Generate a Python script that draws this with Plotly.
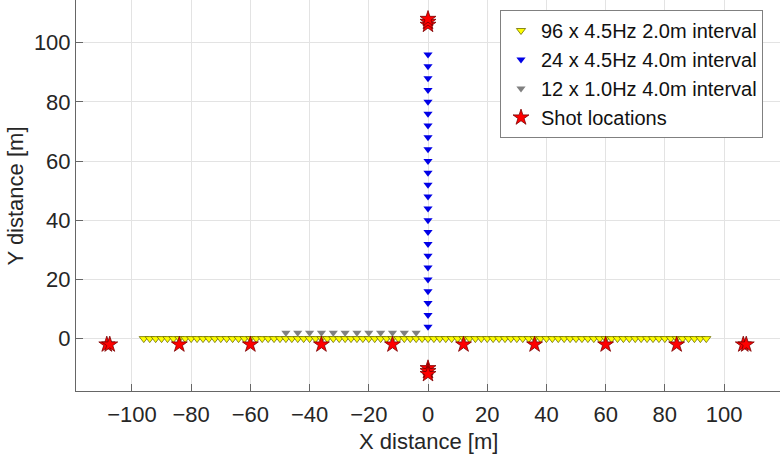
import numpy as np
import plotly.graph_objects as go

# Receiver lines
yellow_x = list(range(-96, 95, 2))          # 96 x 4.5Hz, 2.0 m interval
yellow_y = [0] * len(yellow_x)
blue_y = list(range(4, 97, 4))               # 24 x 4.5Hz, 4.0 m interval
blue_x = [0] * len(blue_y)
gray_x = list(range(-48, -3, 4))             # 12 x 1.0Hz, 4.0 m interval
gray_y = [2] * len(gray_x)

# Shot locations
shot_x = [-108.5, -107.5, -84, -60, -36, -12, 12, 36, 60, 84, 106.5, 107.5,
          0, 0, 0, 0, 0, 0]
shot_y = [-2, -2, -2, -2, -2, -2, -2, -2, -2, -2, -2, -2,
          -10, -11, -12, 106, 107, 108]

x_ticks = list(range(-100, 101, 20))
y_ticks = list(range(0, 101, 20))

FONT = "Liberation Sans, Arial, Helvetica"

fig = go.Figure()
fig.add_trace(go.Scatter(
    x=yellow_x, y=yellow_y, mode="markers", name="96 x 4.5Hz 2.0m interval",
    marker=dict(symbol="triangle-down", size=8, color="#ffff00",
                line=dict(color="#6b6b00", width=0.8))))
fig.add_trace(go.Scatter(
    x=blue_x, y=blue_y, mode="markers", name="24 x 4.5Hz 4.0m interval",
    marker=dict(symbol="triangle-down", size=8, color="#0000e6",
                line=dict(color="#0000e6", width=0))))
fig.add_trace(go.Scatter(
    x=gray_x, y=gray_y, mode="markers", name="12 x 1.0Hz 4.0m interval",
    marker=dict(symbol="triangle-down", size=8, color="#808080",
                line=dict(color="#808080", width=0))))
fig.add_trace(go.Scatter(
    x=shot_x, y=shot_y, mode="markers", name="Shot locations",
    marker=dict(symbol="star", size=12, color="#ff0000",
                line=dict(color="#7a0000", width=0.8))))

axis_common = dict(
    showgrid=True, gridcolor="#e3e3e3", gridwidth=1, zeroline=False,
    showline=True, linecolor="#666666", linewidth=1,
    ticks="inside", ticklen=7, tickcolor="#666666",
    tickfont=dict(family=FONT, size=22, color="#262626"),
    automargin=False,
)

fig.update_layout(
    width=780, height=462,
    margin=dict(l=76, r=0, t=0, b=71),
    paper_bgcolor="white", plot_bgcolor="white",
    xaxis=dict(range=[-118.9, 118.9], tickvals=x_ticks, ticklabelstandoff=4,
               **axis_common),
    yaxis=dict(range=[-17.7, 114.4], tickvals=y_ticks, ticklabelstandoff=0,
               **axis_common),
    legend=dict(x=(500 - 76) / 704, y=1 - 10 / 391, xanchor="left", yanchor="top",
                bgcolor="white", bordercolor="#808080", borderwidth=1,
                font=dict(family=FONT, size=20, color="#111111"),
                itemwidth=30, tracegroupgap=0),
    showlegend=True,
    annotations=[
        dict(text="X distance [m]", xref="paper", yref="paper",
             x=0.5, y=(391 - 441) / 391, xanchor="center", yanchor="middle",
             showarrow=False, font=dict(family=FONT, size=22, color="#262626")),
        dict(text="Y distance [m]", xref="paper", yref="paper",
             x=(15 - 76) / 704, y=0.5, xanchor="center", yanchor="middle",
             textangle=-90, showarrow=False,
             font=dict(family=FONT, size=22, color="#262626")),
    ],
)

fig.write_html("out.html", config={"displayModeBar": False},
               post_script="document.body.style.margin='0';")
